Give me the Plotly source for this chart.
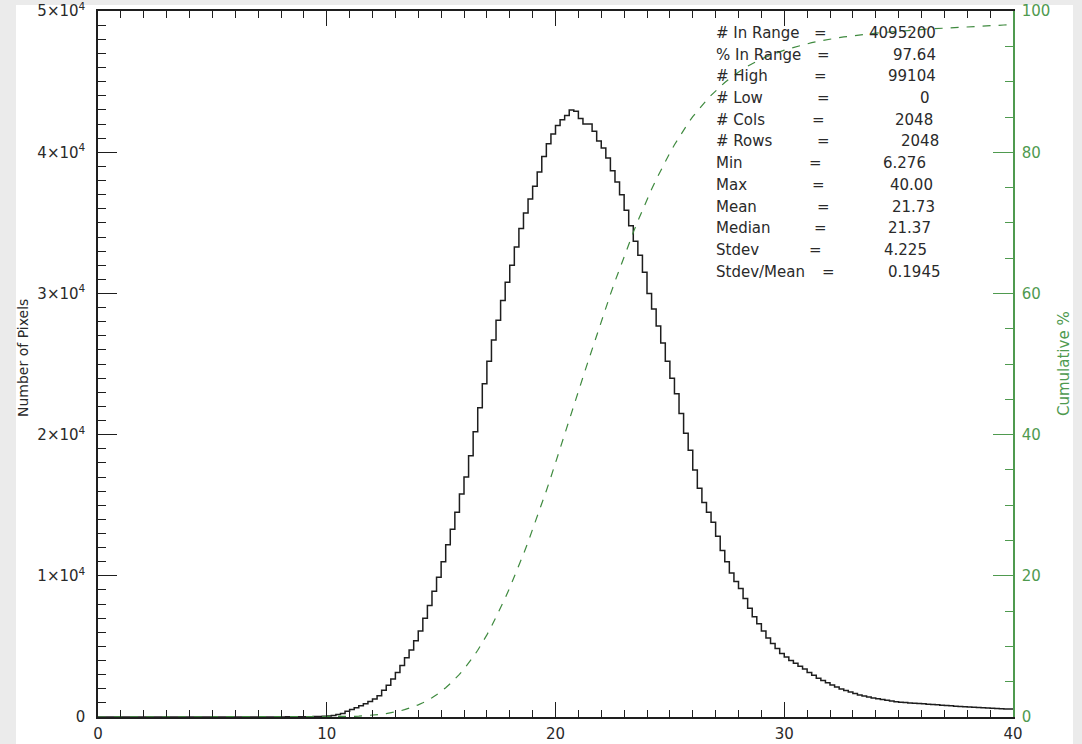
import numpy as np
import plotly.graph_objects as go

# ---------------- data ----------------
BIN_START = 0.0
BIN_WIDTH = 0.2          # drawn bin width
SOURCE_BIN = 0.1         # bin width of the original histogram (counts are per 0.1)
N_COLS = 2048
N_ROWS = 2048

# counts per bin, bins starting at 0.0, 0.2, ... 39.8
counts = [0] * 31 + [
    1, 1, 2, 2, 3, 3, 4, 5, 6, 8,
    9, 11, 13, 16, 20, 25, 31, 40, 50, 70,
    110, 170, 250, 400, 540, 660, 800, 930, 1100, 1280,
    1500, 1900, 2250, 2700, 3150, 3650, 4200, 4750, 5400, 6100,
    7000, 7900, 8900, 9900, 11000, 12200, 13300, 14500, 15800, 17000,
    18500, 20200, 21900, 23600, 25200, 26700, 28100, 29500, 30800, 32000,
    33300, 34600, 35700, 36700, 37600, 38600, 39700, 40600, 41300, 41900,
    42300, 42600, 43000, 42900, 42400, 42000, 42000, 41500, 40800, 40300,
    39600, 38700, 37900, 37000, 35900, 34800, 33700, 32700, 31500, 30000,
    28900, 27700, 26500, 25200, 24000, 22900, 21500, 20100, 18900, 17500,
    16200, 15200, 14500, 13800, 12800, 11800, 11000, 10200, 9600, 9100,
    8400, 7700, 7100, 6600, 6100, 5600, 5200, 4850, 4500, 4250,
    4000, 3800, 3600, 3400, 3150, 2950, 2750, 2580, 2420, 2270,
    2120, 1980, 1870, 1770, 1660, 1560, 1490, 1420, 1350, 1290,
    1240, 1180, 1130, 1080, 1050, 1030, 1000, 980, 960, 930,
    910, 880, 860, 840, 820, 790, 770, 750, 730, 710,
    690, 670, 650, 630, 620, 600, 590, 570, 560,
]

x_tick_vals = [0, 10, 20, 30, 40]
x_tick_text = ["0", "10", "20", "30", "40"]
y_tick_vals = [0, 10000, 20000, 30000, 40000, 50000]
y_tick_text = ["0", "1×10<sup>4</sup>", "2×10<sup>4</sup>", "3×10<sup>4</sup>",
               "4×10<sup>4</sup>", "5×10<sup>4</sup>"]
y2_tick_vals = [0, 20, 40, 60, 80, 100]
y2_tick_text = ["0", "20", "40", "60", "80", "100"]

stat_labels = ["# In Range", "% In Range", "# High", "# Low", "# Cols", "# Rows",
               "Min", "Max", "Mean", "Median", "Stdev", "Stdev/Mean"]
stat_values = ["4095200", "97.64", "99104", "0", "2048", "2048",
               "6.276", "40.00", "21.73", "21.37", "4.225", "0.1945"]

# ---------------- derived ----------------
counts_arr = np.array(counts, dtype=float)
n_bins = len(counts_arr)
edges = BIN_START + BIN_WIDTH * np.arange(n_bins + 1)
hist_x = edges
hist_y = np.append(counts_arr, counts_arr[-1])

total_pixels = N_COLS * N_ROWS
cum_pix = np.cumsum(counts_arr * (BIN_WIDTH / SOURCE_BIN))
cum_x = np.concatenate([[edges[0]], edges[1:]])
cum_y = np.concatenate([[0.0], cum_pix / total_pixels * 100.0])

# ---------------- layout geometry ----------------
W, H = 1082, 744
L, R, T, B = 98, 1013, 11, 717
GREEN = "#4f9a4f"
GREEN_DARK = "#3f8a3f"
INK = "#1e1e1e"
TXT = "#2a2a2a"
FONT = "DejaVu Sans"


def px_x(px):
    return (px - L) / (R - L)


def px_y(py):
    return (B - py) / (B - T)


fig = go.Figure()
fig.add_trace(go.Scatter(
    x=hist_x, y=hist_y, mode="lines", line=dict(color=INK, width=1.5, shape="hv"),
    showlegend=False, hoverinfo="skip", cliponaxis=True))
fig.add_trace(go.Scatter(
    x=cum_x, y=cum_y, mode="lines", yaxis="y2",
    line=dict(color=GREEN_DARK, width=1.2, dash="8px,8px"),
    showlegend=False, hoverinfo="skip"))

annotations = []
eq_x = [820, 823, 820, 823, 818, 823, 815, 818, 823, 820, 815, 828]
val_right = [938, 938, 938, 932, 935, 941, 928, 935, 937, 933, 929, 943]
for i, (lab, val) in enumerate(zip(stat_labels, stat_values)):
    yc = 33 + 21.7 * i
    annotations.append(dict(text=lab, x=px_x(714), y=px_y(yc), xref="paper", yref="paper",
                            xanchor="left", yanchor="middle", showarrow=False,
                            font=dict(family=FONT, size=15, color=TXT)))
    annotations.append(dict(text="=", x=px_x(eq_x[i]), y=px_y(yc), xref="paper", yref="paper",
                            xanchor="center", yanchor="middle", showarrow=False,
                            font=dict(family=FONT, size=15, color=TXT)))
    annotations.append(dict(text=val, x=px_x(val_right[i]), y=px_y(yc), xref="paper", yref="paper",
                            xanchor="right", yanchor="middle", showarrow=False,
                            font=dict(family=FONT, size=15, color=TXT)))

annotations.append(dict(text="Number of Pixels", x=px_x(23), y=px_y(358), xref="paper", yref="paper",
                        textangle=-90, xanchor="center", yanchor="middle", showarrow=False,
                        font=dict(family=FONT, size=14, color=TXT)))
annotations.append(dict(text="Cumulative %", x=px_x(1064), y=px_y(364), xref="paper", yref="paper",
                        textangle=-90, xanchor="center", yanchor="middle", showarrow=False,
                        font=dict(family=FONT, size=15, color=GREEN)))

shapes = [dict(type="rect", xref="paper", yref="paper", layer="below",
               x0=px_x(16), x1=px_x(1073), y0=px_y(760), y1=px_y(5),
               fillcolor="white", line=dict(width=0))]

fig.update_layout(
    width=W, height=H,
    margin=dict(l=L, r=W - R, t=T, b=H - B, pad=0, autoexpand=False),
    paper_bgcolor="#ebebeb", plot_bgcolor="white",
    font=dict(family=FONT, size=15, color=INK),
    showlegend=False,
    annotations=annotations, shapes=shapes,
    xaxis=dict(range=[0, 40], tickvals=x_tick_vals, ticktext=x_tick_text, automargin=False,
               showgrid=False, zeroline=False, showline=True, linecolor=INK, linewidth=1.5,
               mirror="ticks", ticks="inside", ticklen=15, tickwidth=1.3, tickcolor=INK,
               ticklabelstandoff=2,
               minor=dict(dtick=1, ticks="inside", ticklen=7, tickwidth=1.2, tickcolor=INK,
                          showgrid=False),
               tickfont=dict(family=FONT, size=15, color=TXT)),
    yaxis=dict(range=[0, 50010], tickvals=y_tick_vals, ticktext=y_tick_text, automargin=False,
               showgrid=False, zeroline=False, showline=True, linecolor=INK, linewidth=1.5,
               ticks="inside", ticklen=19, tickwidth=1.3, tickcolor=INK,
               ticklabelstandoff=8,
               minor=dict(dtick=1000, ticks="inside", ticklen=8, tickwidth=1.2, tickcolor=INK,
                          showgrid=False),
               tickfont=dict(family=FONT, size=15, color=TXT)),
    yaxis2=dict(range=[0, 100.02], overlaying="y", side="right", tickvals=y2_tick_vals,
                ticktext=y2_tick_text, showgrid=False, zeroline=False, showline=True,
                automargin=False,
                linecolor=GREEN, linewidth=1.5, ticks="inside", ticklen=20, tickwidth=1.3,
                tickcolor=GREEN, ticklabelstandoff=4,
                minor=dict(dtick=5, ticks="inside", ticklen=8, tickwidth=1.2, tickcolor=GREEN,
                           showgrid=False),
                tickfont=dict(family=FONT, size=15, color=GREEN)),
)

fig.write_html("out.html",
               config={"displayModeBar": False},
               post_script="document.body.style.margin='0';"
                           "document.body.style.background='#ebebeb';")
